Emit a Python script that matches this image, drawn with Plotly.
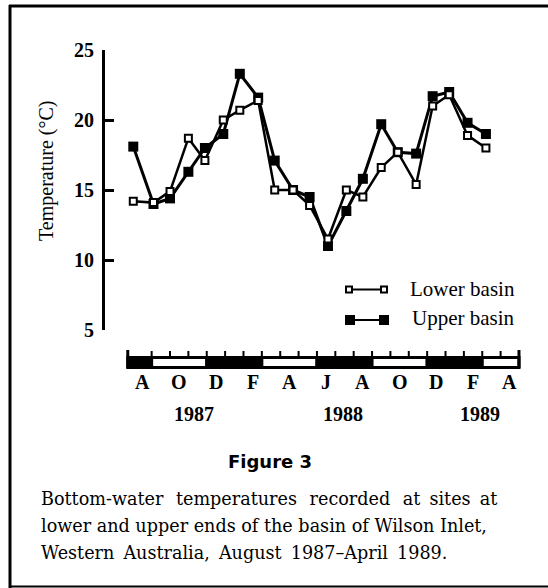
import plotly.graph_objects as go

# ---------------- data ----------------
# sampling positions in months after 1 Aug 1987
sample_month = [0.0, 1.1, 2.0, 3.0, 3.9, 4.9, 5.8, 6.8, 7.7, 8.7, 9.6,
                10.6, 11.6, 12.5, 13.5, 14.4, 15.4, 16.3, 17.2, 18.2, 19.2]
lower_basin = [14.2, 14.1, 14.9, 18.7, 17.1, 20.0, 20.7, 21.4, 15.0, 15.0, 13.9,
               11.5, 15.0, 14.5, 16.6, 17.7, 15.4, 21.0, 21.8, 18.9, 18.0]
upper_basin = [18.1, 14.0, 14.4, 16.3, 18.0, 19.0, 23.3, 21.6, 17.1, 15.0, 14.5,
               11.0, 13.5, 15.8, 19.7, 17.7, 17.6, 21.7, 22.0, 19.8, 19.0]

month_tick_pos = [0.5, 2.5, 4.5, 6.5, 8.5, 10.5, 12.5, 14.5, 16.5, 18.5, 20.5]
month_tick_text = ["A", "O", "D", "F", "A", "J", "A", "O", "D", "F", "A"]
year_labels = ["1987", "1988", "1989"]
year_pos = [3.3, 11.4, 18.9]

# season bar segments: start month, end month, dark?
season_start = [-0.3, 1, 4, 7, 10, 13, 16, 19]
season_end = [1, 4, 7, 10, 13, 16, 19, 21]
season_dark = [True, False, True, False, True, False, True, False]
month_boundaries = list(range(1, 21))

y_ticks = [5, 10, 15, 20, 25]

W, H = 548, 588
def px(x):
    return x / W
def py(y):
    return 1 - y / H

SERIF = "Liberation Serif, Times New Roman, serif"

fig = go.Figure()

fig.add_trace(go.Scatter(
    x=sample_month, y=upper_basin, mode="lines+markers", name="Upper basin",
    line=dict(color="black", width=3),
    marker=dict(symbol="square", size=10, color="black"),
    showlegend=False, cliponaxis=False))
fig.add_trace(go.Scatter(
    x=sample_month, y=lower_basin, mode="lines+markers", name="Lower basin",
    line=dict(color="black", width=2.5),
    marker=dict(symbol="square", size=7, color="white", line=dict(color="black", width=2)),
    showlegend=False, cliponaxis=False))

# manual legend on a pixel overlay axis
fig.add_trace(go.Scatter(
    x=[349, 384], y=[289.5, 289.5], xaxis="x2", yaxis="y2", mode="lines+markers",
    line=dict(color="black", width=2),
    marker=dict(symbol="square", size=6, color="white", line=dict(color="black", width=2)),
    showlegend=False, hoverinfo="skip"))
fig.add_trace(go.Scatter(
    x=[350, 384], y=[320, 320], xaxis="x2", yaxis="y2", mode="lines+markers",
    line=dict(color="black", width=2),
    marker=dict(symbol="square", size=10, color="black"),
    showlegend=False, hoverinfo="skip"))

shapes = []
bar_top, bar_bot = py(357.5), py(367.5)
for s, e, d in zip(season_start, season_end, season_dark):
    shapes.append(dict(type="rect", xref="x", yref="paper", x0=s, x1=e, y0=bar_bot, y1=bar_top,
                       line=dict(color="black", width=3), fillcolor="black" if d else "white"))
for m in month_boundaries:
    shapes.append(dict(type="line", xref="x", yref="paper", x0=m, x1=m, y0=py(357), y1=py(351),
                       line=dict(color="black", width=2)))
for m in [season_start[0], season_end[-1]]:
    shapes.append(dict(type="line", xref="x", yref="paper", x0=m, x1=m, y0=py(368), y1=py(350),
                       line=dict(color="black", width=3)))
# frame
shapes.append(dict(type="line", xref="paper", yref="paper", x0=px(10), x1=px(10), y0=py(5), y1=py(588),
                   line=dict(color="black", width=3)))
shapes.append(dict(type="line", xref="paper", yref="paper", x0=px(9), x1=1, y0=py(6), y1=py(6),
                   line=dict(color="black", width=3)))
shapes.append(dict(type="line", xref="paper", yref="paper", x0=px(9), x1=1, y0=py(586.5), y1=py(586.5),
                   line=dict(color="black", width=2)))

def ann(text, x, y, size, family=SERIF, xref="paper", xanchor="center", **kw):
    return dict(text=text, x=x, y=y, xref=xref, yref="paper", xanchor=xanchor, yanchor="middle",
                showarrow=False, font=dict(family=family, size=size, color="black"), **kw)

annotations = []
for t, p in zip(month_tick_text, month_tick_pos):
    annotations.append(ann("<b>%s</b>" % t, p, py(382), 20, xref="x"))
for t, p in zip(year_labels, year_pos):
    annotations.append(ann("<b>%s</b>" % t, p, py(414), 20, xref="x"))
annotations.append(ann("Temperature (°C)", px(46), py(171), 20, textangle=-90))
annotations.append(ann("Lower basin", px(517), py(289), 21, xanchor="right"))
annotations.append(ann("Upper basin", px(517), py(318), 21, xanchor="right"))
annotations.append(ann("<b>Figure 3</b>", px(270), py(461), 18, family="DejaVu Sans"))
T = "\u2009"
caption_lines = ["Bottom-water" + T * 2 + " temperatures" + T * 2 + " recorded" + T * 2 +
                 " at" + T + " sites" + T + " at",
                 "lower and upper ends of the basin of Wilson Inlet,",
                 "Western" + T + " Australia," + T + " August" + T + " 1987\u2013April" + T + " 1989."]
for i, line in enumerate(caption_lines):
    annotations.append(ann(line, px(39), py(499 + 27 * i), 17.6, family="DejaVu Serif",
                           xanchor="left"))

fig.update_layout(
    width=W, height=H, margin=dict(l=0, r=0, t=0, b=0, pad=0, autoexpand=False),
    paper_bgcolor="white", plot_bgcolor="rgba(0,0,0,0)",
    xaxis=dict(domain=[px(105), px(530)], range=[-1.54, 21.6], anchor="y", automargin=False,
               visible=False, showgrid=False, zeroline=False),
    yaxis=dict(domain=[py(330), py(50)], range=[5, 25], anchor="x", side="left", automargin=False,
               showline=True, linecolor="black", linewidth=3, showgrid=False, zeroline=False,
               ticks="inside", ticklen=9, tickwidth=3, tickcolor="black", tickvals=y_ticks,
               ticktext=["<b>%d</b>" % v for v in y_ticks],
               tickfont=dict(family=SERIF, size=20, color="black"), ticklabelstandoff=4),
    xaxis2=dict(domain=[0, 1], range=[0, W], anchor="y2", visible=False, fixedrange=True,
                automargin=False),
    yaxis2=dict(domain=[0, 1], range=[H, 0], anchor="x2", visible=False, fixedrange=True,
                automargin=False),
    shapes=shapes, annotations=annotations, showlegend=False,
)

fig.write_html("out.html", config={"displayModeBar": False},
               post_script="document.body.style.margin='0';document.body.style.overflow='hidden';")
